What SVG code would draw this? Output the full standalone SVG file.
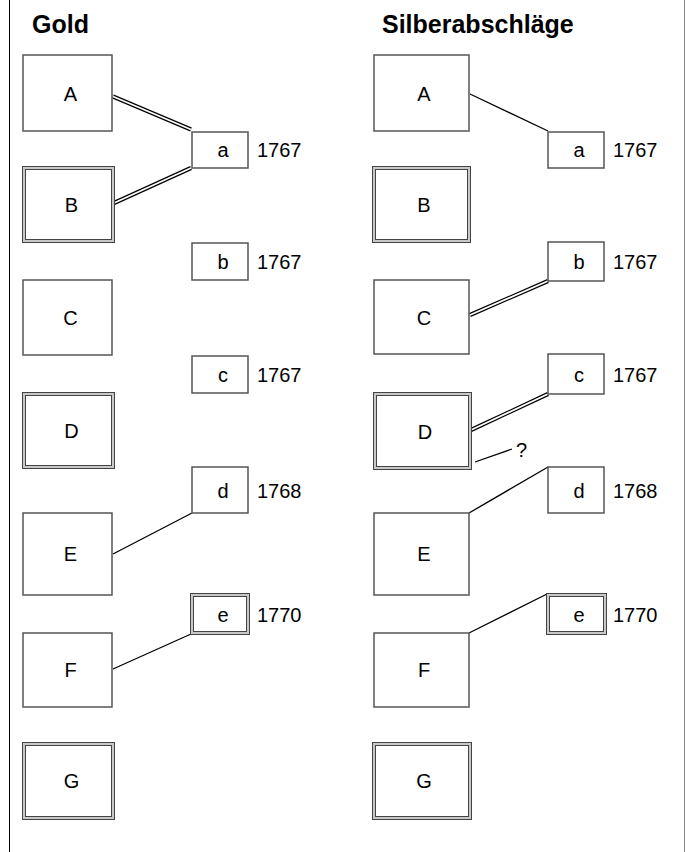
<svg xmlns="http://www.w3.org/2000/svg" width="685" height="852" viewBox="0 0 685 852">
<style>
text{font-family:"Liberation Sans",Arial,sans-serif;fill:#000}
.h{font-size:25px;font-weight:bold}
.l{font-size:20px;text-anchor:middle}
.y{font-size:20px}
.box{fill:#fff;stroke:#555;stroke-width:1.5}
.dbo{fill:#fff;stroke:#444;stroke-width:4}
.dbi{fill:none;stroke:#c8c8c8;stroke-width:2}
.s{stroke:#000;stroke-width:1.3;fill:none}
.do{stroke:#000;stroke-width:4.2;fill:none}
.di{stroke:#fff;stroke-width:1.8;fill:none}
</style>
<rect width="685" height="852" fill="#fff"/>
<line x1="9.5" y1="0" x2="9.5" y2="852" stroke="#000" stroke-width="1"/>
<line x1="684.5" y1="0" x2="684.5" y2="852" stroke="#888" stroke-width="1"/>
<text class="h" x="32" y="33">Gold</text>
<text class="h" x="382" y="33">Silberabschläge</text>

<g id="connectors">
<line class="do" x1="113" y1="96.5" x2="191" y2="129.5"/><line class="di" x1="113" y1="96.5" x2="191" y2="129.5"/>
<line class="do" x1="114" y1="203" x2="191" y2="168"/><line class="di" x1="114" y1="203" x2="191" y2="168"/>
<line class="s" x1="113" y1="554" x2="192" y2="513"/>
<line class="s" x1="113" y1="669" x2="191" y2="634"/>
<line class="s" x1="470" y1="94" x2="548" y2="131"/>
<line class="do" x1="470" y1="315" x2="548" y2="281"/><line class="di" x1="470" y1="315" x2="548" y2="281"/>
<line class="do" x1="471" y1="430" x2="548" y2="394"/><line class="di" x1="471" y1="430" x2="548" y2="394"/>
<line class="s" x1="475" y1="462" x2="512" y2="449"/>
<line class="s" x1="469" y1="513" x2="548" y2="467"/>
<line class="s" x1="469" y1="633" x2="547" y2="594"/>
</g>
<text class="y" x="516" y="457">?</text>

<g id="L-A"><rect class="box" x="23" y="55" width="89" height="76"/><text class="l" x="70.5" y="101">A</text></g>
<g id="L-B"><rect class="dbo" x="24" y="168" width="89" height="73"/><rect class="dbi" x="24" y="168" width="89" height="73"/><text class="l" x="71.5" y="212">B</text></g>
<g id="L-C"><rect class="box" x="23" y="280" width="89" height="75"/><text class="l" x="70.5" y="325">C</text></g>
<g id="L-D"><rect class="dbo" x="24" y="394" width="89" height="73"/><rect class="dbi" x="24" y="394" width="89" height="73"/><text class="l" x="71.5" y="438">D</text></g>
<g id="L-E"><rect class="box" x="23" y="513" width="89" height="82"/><text class="l" x="70.5" y="561">E</text></g>
<g id="L-F"><rect class="box" x="23" y="633" width="89" height="74"/><text class="l" x="70.5" y="677">F</text></g>
<g id="L-G"><rect class="dbo" x="24" y="744" width="89" height="74"/><rect class="dbi" x="24" y="744" width="89" height="74"/><text class="l" x="71.5" y="788">G</text></g>

<g id="L-a"><rect class="box" x="192" y="132" width="56" height="36"/><text class="l" x="223" y="157">a</text><text class="y" x="257" y="157">1767</text></g>
<g id="L-b"><rect class="box" x="192" y="243" width="56" height="37"/><text class="l" x="223" y="269">b</text><text class="y" x="257" y="269">1767</text></g>
<g id="L-c"><rect class="box" x="192" y="356" width="56" height="37"/><text class="l" x="223" y="382">c</text><text class="y" x="257" y="382">1767</text></g>
<g id="L-d"><rect class="box" x="192" y="467" width="56" height="46"/><text class="l" x="223" y="498">d</text><text class="y" x="257" y="498">1768</text></g>
<g id="L-e"><rect class="dbo" x="192" y="595" width="56" height="38"/><rect class="dbi" x="192" y="595" width="56" height="38"/><text class="l" x="223" y="622">e</text><text class="y" x="257" y="622">1770</text></g>

<g id="R-A"><rect class="box" x="374" y="55" width="95" height="76"/><text class="l" x="424" y="101">A</text></g>
<g id="R-B"><rect class="dbo" x="374" y="168" width="95" height="73"/><rect class="dbi" x="374" y="168" width="95" height="73"/><text class="l" x="424" y="212">B</text></g>
<g id="R-C"><rect class="box" x="374" y="280" width="95" height="74"/><text class="l" x="424" y="325">C</text></g>
<g id="R-D"><rect class="dbo" x="375" y="394" width="95" height="74"/><rect class="dbi" x="375" y="394" width="95" height="74"/><text class="l" x="425" y="439">D</text></g>
<g id="R-E"><rect class="box" x="374" y="513" width="95" height="82"/><text class="l" x="424" y="561">E</text></g>
<g id="R-F"><rect class="box" x="374" y="633" width="95" height="74"/><text class="l" x="424" y="677">F</text></g>
<g id="R-G"><rect class="dbo" x="374" y="744" width="96" height="74"/><rect class="dbi" x="374" y="744" width="96" height="74"/><text class="l" x="424" y="788">G</text></g>

<g id="R-a"><rect class="box" x="548" y="132" width="56" height="36"/><text class="l" x="579" y="157">a</text><text class="y" x="613" y="157">1767</text></g>
<g id="R-b"><rect class="box" x="548" y="242" width="56" height="39"/><text class="l" x="579" y="269">b</text><text class="y" x="613" y="269">1767</text></g>
<g id="R-c"><rect class="box" x="548" y="354" width="56" height="40"/><text class="l" x="579" y="382">c</text><text class="y" x="613" y="382">1767</text></g>
<g id="R-d"><rect class="box" x="548" y="467" width="56" height="46"/><text class="l" x="579" y="498">d</text><text class="y" x="613" y="498">1768</text></g>
<g id="R-e"><rect class="dbo" x="548" y="595" width="57" height="38"/><rect class="dbi" x="548" y="595" width="57" height="38"/><text class="l" x="579" y="622">e</text><text class="y" x="613" y="622">1770</text></g>
</svg>
